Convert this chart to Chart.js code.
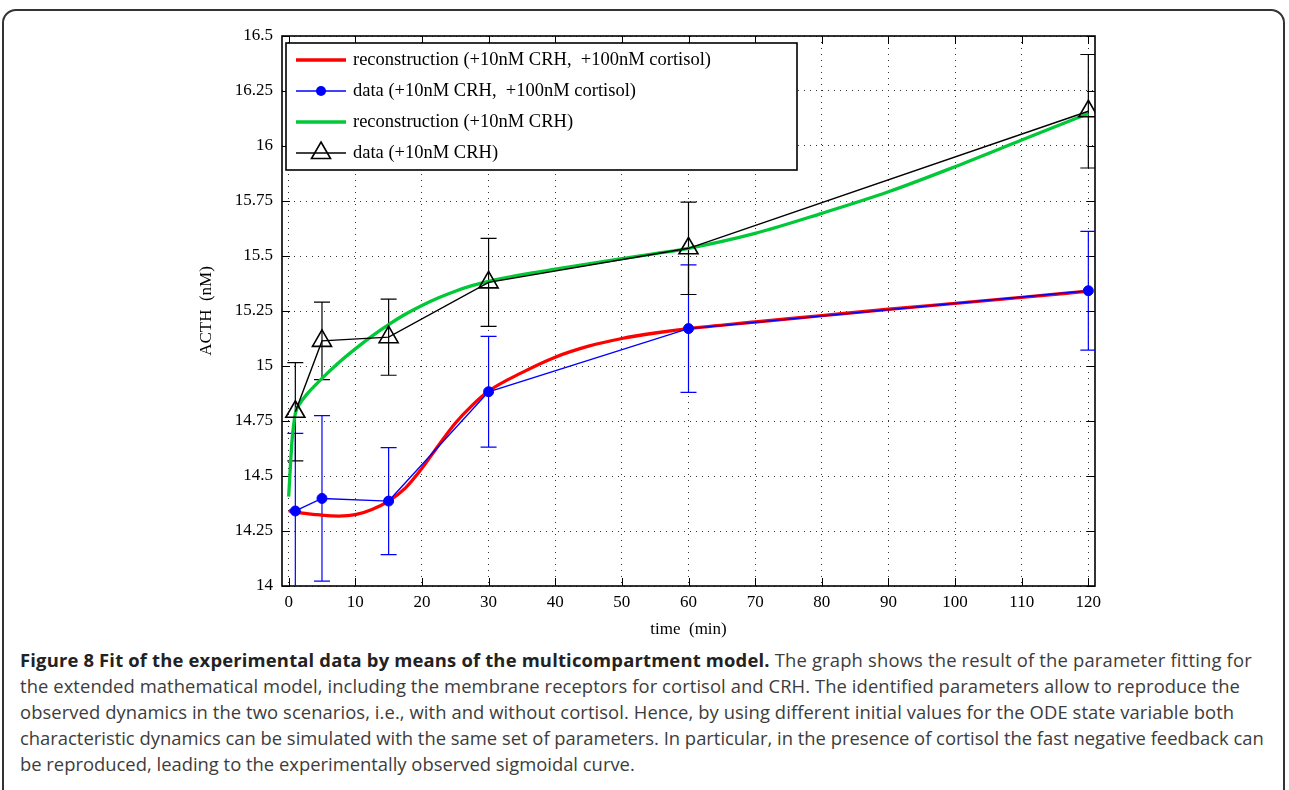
<!DOCTYPE html>
<html>
<head>
<meta charset="utf-8">
<script src="https://cdn.jsdelivr.net/npm/chart.js@4.4.0/dist/chart.umd.min.js"></script>
<style>
  html, body { margin: 0; padding: 0; background: #fff; }
  body { width: 1289px; height: 790px; overflow: hidden; position: relative; }
  .frame { position: absolute; left: 2px; top: 9px; width: 1283px; height: 830px;
           border: 2px solid #333; border-radius: 14px; box-sizing: border-box; }
  #plot { position: absolute; left: 0; top: 0; }
  .caption { position: absolute; left: 20px; top: 647px; font-family: "Open Sans", sans-serif;
             font-size: 18.4px; line-height: 26px; color: #3c3c3c; white-space: nowrap; }
  .caption b { color: #222; font-weight: 700; }
  .l1 { letter-spacing: 0.18px; }
  .l2 { letter-spacing: 0.08px; }
</style>
</head>
<body>
<div class="frame"></div>
<canvas id="plot" width="1289" height="640"></canvas>
<div class="caption">
  <span class="l1"><b>Figure 8 Fit of the experimental data by means of the multicompartment model.</b> The graph shows the result of the parameter fitting for</span><br>
  <span class="l2">the extended mathematical model, including the membrane receptors for cortisol and CRH. The identified parameters allow to reproduce the</span><br>
  <span class="l2">observed dynamics in the two scenarios, i.e., with and without cortisol. Hence, by using different initial values for the ODE state variable both</span><br>
  <span>characteristic dynamics can be simulated with the same set of parameters. In particular, in the presence of cortisol the fast negative feedback can</span><br>
  <span>be reproduced, leading to the experimentally observed sigmoidal curve.</span>
</div>
<script>
// time axis of the model curves (min)
const modelTime = [0, 0.25, 0.5, 0.75, 1, 1.75, 2.75, 3.75, 5, 7.5, 10, 12.5, 15, 17.5, 20, 22.5, 25, 27.5, 30,
                   35, 40, 45, 50, 55, 60, 70, 80, 90, 100, 110, 120];
// reconstruction with cortisol (red) and without (green)
const reconCortisol = [14.342, 14.340, 14.338, 14.337, 14.336, 14.333, 14.329, 14.326, 14.322, 14.318, 14.324, 14.348,
                       14.386, 14.445, 14.535, 14.640, 14.740, 14.820, 14.886, 14.970, 15.040, 15.090, 15.125, 15.150,
                       15.170, 15.200, 15.229, 15.258, 15.285, 15.312, 15.340];
const reconCRH = [14.406, 14.540, 14.660, 14.732, 14.785, 14.832, 14.872, 14.905, 14.944, 15.015, 15.078, 15.136,
                  15.188, 15.235, 15.275, 15.310, 15.340, 15.365, 15.385, 15.415, 15.440, 15.464, 15.488, 15.511,
                  15.535, 15.603, 15.694, 15.792, 15.906, 16.027, 16.148];

// measured data
const sampleTime = [1, 5, 15, 30, 60, 120];
const dataCortisol = [14.341, 14.398, 14.386, 14.883, 15.170, 15.342];
const errCortisol = [0.353, 0.376, 0.243, 0.252, 0.290, 0.270];
const dataCRH = [14.792, 15.114, 15.131, 15.380, 15.535, 16.158];
const errCRH = [0.223, 0.176, 0.173, 0.200, 0.210, 0.258];

// ticks
const xTickValues = [0, 10, 20, 30, 40, 50, 60, 70, 80, 90, 100, 110, 120];
const yTickValues = [14, 14.25, 14.5, 14.75, 15, 15.25, 15.5, 15.75, 16, 16.25, 16.5];
const yTickLabels = ['14', '14.25', '14.5', '14.75', '15', '15.25', '15.5', '15.75', '16', '16.25', '16.5'];

const serif = '"Liberation Serif", "Times New Roman", serif';

function pairs(xs, ys) {
  return xs.map((x, i) => ({ x: x, y: ys[i] }));
}

// inward ticks and box around the axes, like matlab
const axesBox = {
  id: 'axesBox',
  beforeDatasetsDraw(chart) {
    const { ctx, chartArea: a, scales: { x, y } } = chart;
    ctx.save();
    ctx.strokeStyle = '#000';
    ctx.lineWidth = 1;
    ctx.beginPath();
    x.ticks.forEach(t => {
      const px = Math.round(x.getPixelForValue(t.value)) + 0.5;
      ctx.moveTo(px, a.bottom); ctx.lineTo(px, a.bottom - 8);
      ctx.moveTo(px, a.top); ctx.lineTo(px, a.top + 8);
    });
    y.ticks.forEach(t => {
      const py = Math.round(y.getPixelForValue(t.value)) + 0.5;
      ctx.moveTo(a.left, py); ctx.lineTo(a.left + 8, py);
      ctx.moveTo(a.right, py); ctx.lineTo(a.right - 8, py);
    });
    ctx.stroke();
    ctx.lineWidth = 1.6;
    ctx.strokeRect(a.left, a.top, a.width, a.height);
    ctx.restore();
  }
};

// vertical error bars with caps
const errorBars = {
  id: 'errorBars',
  beforeDatasetsDraw(chart) {
    const { ctx, chartArea: a, scales: { x, y } } = chart;
    ctx.save();
    ctx.beginPath();
    ctx.rect(a.left, a.top, a.width, a.height);
    ctx.clip();
    chart.data.datasets.forEach(ds => {
      if (!ds.errors) return;
      ctx.strokeStyle = ds.borderColor;
      ctx.lineWidth = 1.2;
      ctx.beginPath();
      ds.data.forEach((p, i) => {
        const px = x.getPixelForValue(p.x);
        const top = y.getPixelForValue(p.y + ds.errors[i]);
        const bot = y.getPixelForValue(p.y - ds.errors[i]);
        ctx.moveTo(px, top); ctx.lineTo(px, bot);
        ctx.moveTo(px - 8, top); ctx.lineTo(px + 8, top);
        ctx.moveTo(px - 8, bot); ctx.lineTo(px + 8, bot);
      });
      ctx.stroke();
    });
    ctx.restore();
  }
};

// boxed legend in the upper left corner of the axes
const boxLegend = {
  id: 'boxLegend',
  afterDraw(chart) {
    const { ctx, chartArea: a } = chart;
    const left = a.left + 4, top = a.top + 7, w = 511, h = 127;
    ctx.save();
    ctx.fillStyle = '#fff';
    ctx.fillRect(left, top, w, h);
    ctx.strokeStyle = '#000';
    ctx.lineWidth = 1.6;
    ctx.strokeRect(left, top, w, h);
    ctx.font = '18.5px ' + serif;
    ctx.textBaseline = 'middle';
    chart.data.datasets.forEach((ds, i) => {
      const yy = top + 17 + i * 31;
      ctx.strokeStyle = ds.borderColor;
      ctx.lineWidth = ds.borderWidth;
      ctx.beginPath();
      ctx.moveTo(left + 10, yy); ctx.lineTo(left + 60, yy);
      ctx.stroke();
      if (ds.pointStyle === 'circle' && ds.pointRadius > 0) {
        ctx.fillStyle = ds.pointBackgroundColor;
        ctx.beginPath();
        ctx.arc(left + 35, yy, ds.pointRadius, 0, Math.PI * 2);
        ctx.fill();
      } else if (ds.pointStyle === 'triangle') {
        const r = ds.pointRadius, cx = left + 35;
        ctx.lineWidth = ds.pointBorderWidth;
        ctx.beginPath();
        ctx.moveTo(cx, yy - r);
        ctx.lineTo(cx + 0.866 * r, yy + 0.5 * r);
        ctx.lineTo(cx - 0.866 * r, yy + 0.5 * r);
        ctx.closePath();
        ctx.stroke();
      }
      ctx.fillStyle = '#000';
      ctx.fillText(ds.label, left + 67, yy);
    });
    ctx.restore();
  }
};

new Chart(document.getElementById('plot'), {
  type: 'line',
  data: {
    datasets: [
      {
        label: 'reconstruction (+10nM CRH,  +100nM cortisol)',
        data: pairs(modelTime, reconCortisol),
        borderColor: '#ff0000',
        borderWidth: 3.3,
        pointRadius: 0,
        cubicInterpolationMode: 'monotone',
        order: 4
      },
      {
        label: 'data (+10nM CRH,  +100nM cortisol)',
        data: pairs(sampleTime, dataCortisol),
        errors: errCortisol,
        borderColor: '#0000ff',
        borderWidth: 1.4,
        pointStyle: 'circle',
        pointRadius: 5,
        pointBackgroundColor: '#0000ff',
        pointBorderColor: '#0000ff',
        pointBorderWidth: 1,
        tension: 0,
        order: 3
      },
      {
        label: 'reconstruction (+10nM CRH)',
        data: pairs(modelTime, reconCRH),
        borderColor: '#00c837',
        borderWidth: 3.3,
        pointRadius: 0,
        cubicInterpolationMode: 'monotone',
        order: 2
      },
      {
        label: 'data (+10nM CRH)',
        data: pairs(sampleTime, dataCRH),
        errors: errCRH,
        borderColor: '#000000',
        borderWidth: 1.4,
        pointStyle: 'triangle',
        pointRadius: 11,
        pointBackgroundColor: 'rgba(0,0,0,0)',
        pointBorderColor: '#000000',
        pointBorderWidth: 1.6,
        tension: 0,
        order: 1
      }
    ]
  },
  options: {
    responsive: false,
    animation: false,
    layout: { padding: { left: 190, right: 194, top: 36, bottom: 0 } },
    scales: {
      x: {
        type: 'linear',
        min: -1,
        max: 121,
        afterBuildTicks: s => { s.ticks = xTickValues.map(v => ({ value: v })); },
        afterFit: s => { s.height = 54; },
        grid: { color: '#333', lineWidth: 1, drawTicks: false },
        border: { display: false, dash: [1, 5] },
        ticks: { color: '#000', padding: 6, maxRotation: 0, font: { family: serif, size: 17 } },
        title: { display: true, text: 'time  (min)', color: '#000', padding: { top: 0, bottom: 0 },
                 font: { family: serif, size: 17 } }
      },
      y: {
        min: 14,
        max: 16.5,
        afterBuildTicks: s => { s.ticks = yTickValues.map(v => ({ value: v })); },
        afterFit: s => { s.width = 92; },
        grid: { color: '#333', lineWidth: 1, drawTicks: false },
        border: { display: false, dash: [1, 5] },
        ticks: {
          color: '#000', padding: 9, font: { family: serif, size: 17 },
          callback: v => yTickLabels[yTickValues.indexOf(v)]
        },
        title: { display: true, text: 'ACTH  (nM)', color: '#000', padding: { top: 6, bottom: 0 },
                 font: { family: serif, size: 17 } }
      }
    },
    plugins: {
      legend: { display: false },
      tooltip: { enabled: false }
    }
  },
  plugins: [axesBox, errorBars, boxLegend]
});
</script>
</body>
</html>
